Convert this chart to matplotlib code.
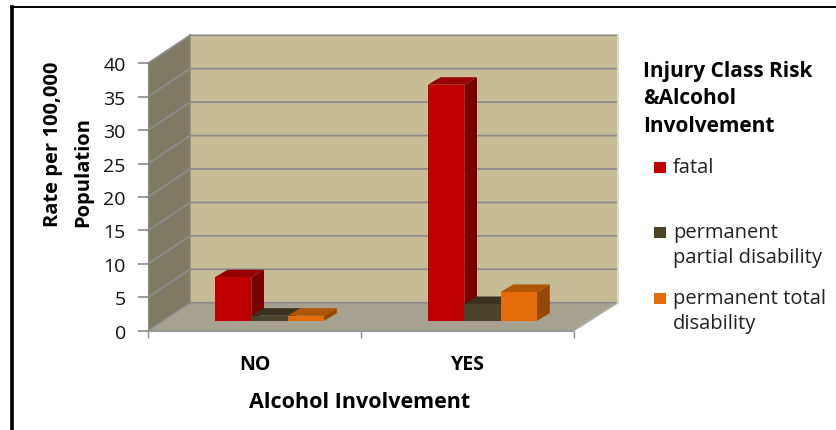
import matplotlib
matplotlib.use('Agg')
import matplotlib.pyplot as plt
from matplotlib.patches import Polygon, Rectangle

plt.rcParams['font.family'] = ['Open Sans', 'DejaVu Sans']

categories = ['NO', 'YES']
series_names = ['fatal', 'permanent\npartial disability', 'permanent total\ndisability']
fatal = [6.5, 35.3]
partial = [0.75, 2.5]
total = [0.75, 4.3]
y_ticks = [0, 5, 10, 15, 20, 25, 30, 35, 40]

front = ['#C00000', '#4A442A', '#E46C0A']
top = ['#960000', '#38321F', '#AE5506']
side = ['#7A0000', '#2C2818', '#974806']

W, H = 836, 431
fig = plt.figure(figsize=(W / 100, H / 100), dpi=100, facecolor='white')
ax = fig.add_axes([148 / W, (H - 331.7) / H, 426 / W, 267.4 / H])
ax.set_xlim(0, 2)
ax.set_ylim(0, 40)
ax.patch.set_visible(False)

# depth of the fake 3d box, in data units
dx = 42 / 213
dx_r = 44 / 213
dy = 28 / 6.685
# bars stand part way into the floor
bar_dx = 15 / 213
bar_dy = 10 / 6.685
depth_x = 12.7 / 213
depth_y = 7.5 / 6.685
bar_w = 36.4 / 213


def poly(pts, color, z):
    ax.add_patch(Polygon(pts, closed=True, fc=color, ec='none', clip_on=False, zorder=z))


# walls and floor
poly([(0, 0), (dx, dy), (2 + dx_r, dy), (2, 0)], '#A6A28F', 1)
poly([(dx, dy), (2 + dx_r, dy), (2 + dx_r, 40 + dy), (dx, 40 + dy)], '#C6BD97', 1)
poly([(0, 0), (dx, dy), (dx, 40 + dy), (0, 40)], '#7F7B63', 1)

# gridlines run round the left wall and the back wall
for v in y_ticks:
    ax.plot([0, dx, 2 + dx_r], [v, v + dy, v + dy], color='#8C8C8C', lw=1.3, clip_on=False, zorder=2)
ax.plot([0, 2], [0, 0], color='#9A9A9A', lw=1.5, clip_on=False, zorder=2)
ax.plot([2, 2 + dx_r], [0, dy], color='#B5B5B5', lw=1, clip_on=False, zorder=2)
ax.plot([2 + dx_r, 2 + dx_r], [dy, 40 + dy], color='#DDD9C3', lw=1.5, clip_on=False, zorder=2)
ax.plot([dx, dx], [dy, 40 + dy], color='#8A8A78', lw=1.2, clip_on=False, zorder=2)

# bars, back to front left to right
for c in range(len(categories)):
    for s, vals in enumerate([fatal, partial, total]):
        x0 = c + 0.5 + bar_dx + (s - 1.5) * bar_w
        x1 = x0 + bar_w
        y0 = bar_dy
        y1 = y0 + vals[c]
        z = 5 + s * 0.1
        poly([(x1, y0), (x1 + depth_x, y0 + depth_y), (x1 + depth_x, y1 + depth_y), (x1, y1)], side[s], z)
        poly([(x0, y1), (x0 + depth_x, y1 + depth_y), (x1 + depth_x, y1 + depth_y), (x1, y1)], top[s], z)
        poly([(x0, y0), (x1, y0), (x1, y1), (x0, y1)], front[s], z)

for sp in ['top', 'right', 'bottom']:
    ax.spines[sp].set_visible(False)
ax.spines['left'].set_color('#8C8C8C')
ax.spines['left'].set_zorder(3)

ax.set_yticks(y_ticks)
ax.tick_params(axis='y', length=7, width=1.2, color='#8C8C8C', labelsize=14, pad=9, labelcolor='#111111')
ax.set_xticks([0, 1, 2])
ax.set_xticklabels(['', '', ''])
ax.tick_params(axis='x', length=5, width=1, color='#8C8C8C')
ax.set_xticks([0.5, 1.5], minor=True)
ax.set_xticklabels(categories, minor=True, fontsize=14, fontweight='bold')
ax.tick_params(axis='x', which='minor', length=0, pad=17)

fig.text(360 / W, 1 - 403 / H, 'Alcohol Involvement', fontsize=15.5, fontweight='bold', ha='center', va='center')
for x, line in zip([58, 88], ['Rate per 100,000', 'Population']):
    fig.text(x / W, 1 - 227 / H, line, fontsize=14.5, fontweight='bold', rotation=90,
             ha='left', va='baseline', rotation_mode='anchor')

# legend
for y, line in zip([72, 99, 127], ['Injury Class Risk', '&Alcohol', 'Involvement']):
    fig.text(643 / W, 1 - y / H, line, fontsize=15, fontweight='bold', va='center')
marker_y = [168, 233, 299]
for s, name in enumerate(series_names):
    fig.add_artist(Rectangle((654 / W, 1 - (marker_y[s] + 5.5) / H), 12 / W, 11 / H, fc=front[s], ec='none',
                             transform=fig.transFigure))
    for i, line in enumerate(name.split('\n')):
        fig.text(673 / W, 1 - (marker_y[s] + i * 24.5) / H, line, fontsize=14.5, va='center', color='#222222')

# black frame of the scan
fig.add_artist(plt.Line2D([12 / W, 12 / W], [0, 1 - 7.5 / H], color='black', lw=2.6))
fig.add_artist(plt.Line2D([11 / W, 1], [1 - 7.5 / H, 1 - 7.5 / H], color='black', lw=1.4))

fig.savefig('out.png', dpi=100)
